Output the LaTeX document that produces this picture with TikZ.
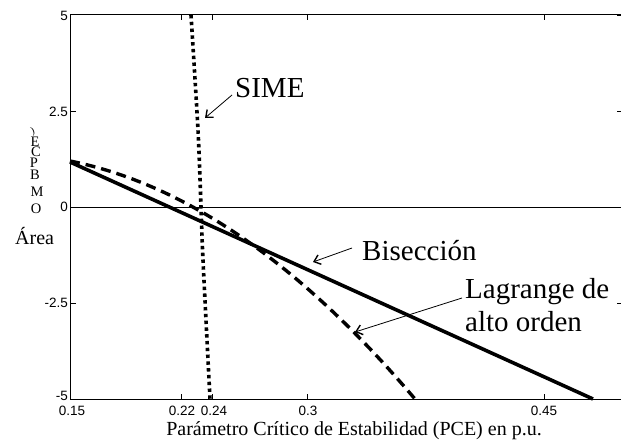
\documentclass[tikz,border=0pt]{standalone}
\usepackage{fontspec}
\setmainfont{Liberation Serif}
\newfontfamily\arialf{Liberation Sans}
\usetikzlibrary{arrows.meta}
\begin{document}
\begin{tikzpicture}[x=1pt,y=-1pt,
  ticklab/.style={font=\arialf\fontsize{13.5}{13.5}\selectfont, inner sep=0pt},
  annot/.style={font=\fontsize{29}{33}\selectfont, inner sep=0pt, align=left},
  axlab/.style={font=\fontsize{20}{22}\selectfont, inner sep=0pt},
  stackl/.style={font=\fontsize{14.5}{14.5}\selectfont, inner sep=0pt},
  frame/.style={line width=1pt},
  tickmark/.style={line width=0.8pt},
  zeroline/.style={line width=0.9pt},
  pointer/.style={line width=0.8pt, -{Straight Barb[length=6pt,width=10pt,line width=1.4pt]}},
  bisec/.style={line width=3.6pt},
  lagr/.style={line width=3.4pt, dash pattern=on 10pt off 6pt},
  simec/.style={line width=3.6pt, dash pattern=on 3.4pt off 3.4pt}
]
\useasboundingbox (0,0) rectangle (621,441);
% frame
\draw[frame] (623,15) -- (70,15) -- (70,399) -- (623,399);
\draw[zeroline] (70,207) -- (623,207);
% ticks
\foreach \tx in {181,212,307,544} {
  \draw[tickmark] (\tx,15) -- ++(0,5);
  \draw[tickmark] (\tx,399) -- ++(0,-5);
}
\foreach \ty in {111,207,303} {
  \draw[tickmark] (70,\ty) -- ++(6,0);
}
\foreach \ty in {15,111,207,303,399} {
  \draw[tickmark] (623,\ty) -- ++(-6,0);
}
% tick labels
\node[ticklab, anchor=east] (y5) at (68,16) {5};
\node[ticklab, anchor=east] (y25) at (68,112) {2.5};
\node[ticklab, anchor=east] (y0) at (68,207) {0};
\node[ticklab, anchor=east] (ym25) at (68,303) {-2.5};
\node[ticklab, anchor=east] (ym5) at (68,396) {-5};
\node[ticklab] (x15) at (72,411) {0.15};
\node[ticklab] (x22) at (182,411) {0.22};
\node[ticklab] (x24) at (214,411) {0.24};
\node[ticklab] (x30) at (308,411) {0.3};
\node[ticklab] (x45) at (544,411) {0.45};
% axis labels
\node[axlab, anchor=base] (xlabel) at (354,435) {Parámetro Crítico de Estabilidad (PCE) en p.u.};
\node[axlab, anchor=base west] (area) at (15,244) {Área};
\node[stackl, scale=0.7, rotate=20] (sp) at (33,132) {)};
\node[stackl] (sE) at (35,142) {E};
\node[stackl] (sC) at (36,152) {C};
\node[stackl] (sP) at (34,163) {P};
\node[stackl] (sB) at (35,175) {B};
\node[stackl] (sM) at (37,192) {M};
\node[stackl] (sO) at (36,209) {O};
% curves
\draw[bisec] (70,162) -- (593,399);
\draw[lagr] plot[domain=0:3.45, samples=60] ({70+100*\x},{161+20*\x+14.2*\x*\x});
\draw[simec] plot[smooth] coordinates {(191,15) (198,130) (201,207) (203,260) (210,399)};
% annotations
\node[annot, anchor=base west] (sime) at (235,98) {SIME};
\node[annot, anchor=base west] (bis) at (362,260) {Bisección};
\node[annot, anchor=north west] (lag) at (465,278) {Lagrange de\\alto orden};
\coordinate (simefrom) at (232,95);
\coordinate (simeto) at (205,118);
\coordinate (bisfrom) at (352,248);
\coordinate (bisto) at (313,262);
\coordinate (lagfrom) at (462,298);
\coordinate (lagto) at (355,332);
\draw[pointer] (simefrom) -- (simeto);
\draw[pointer] (bisfrom) -- (bisto);
\draw[pointer] (lagfrom) -- (lagto);
\end{tikzpicture}
\end{document}
